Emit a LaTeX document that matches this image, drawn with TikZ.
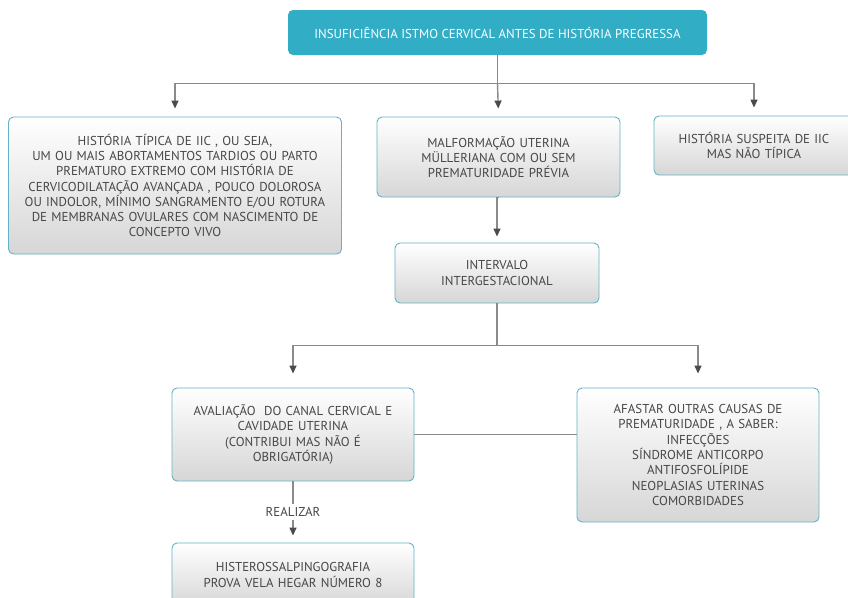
\documentclass[tikz,border=0pt]{standalone}
\usepackage{fontspec}
\setmainfont{PT Sans}
\usetikzlibrary{arrows.meta}
\definecolor{headfill}{HTML}{32ADC6}
\definecolor{rim}{HTML}{62B3C7}
\definecolor{ink}{HTML}{474747}
\definecolor{wirecol}{HTML}{8A8A8A}
\tikzset{
  card/.style={draw=rim, line width=0.9pt, rounded corners=5pt, top color=white,
    bottom color=black!16, text=ink, align=center, inner sep=0pt},
  headcard/.style={fill=headfill, rounded corners=5pt, text=white, align=center, inner sep=0pt},
  wire/.style={draw=wirecol, line width=1.4pt},
  flow/.style={wire, -{Triangle[length=8pt,width=7pt,color=black!70]}}
}
\begin{document}
\begin{tikzpicture}[x=1pt,y=-1pt,font=\fontsize{12.9}{15.3}\selectfont]
\useasboundingbox (0,0) rectangle (848,597);

\node[headcard, minimum width=419pt, minimum height=45pt] (hist) at (497.5,32.5)
  {INSUFICIÊNCIA ISTMO CERVICAL ANTES DE HISTÓRIA PREGRESSA};

\node[card, minimum width=333pt, minimum height=137pt, text width=325pt] (tipica) at (175,185.5)
  {HISTÓRIA TÍPICA DE IIC , OU SEJA,\\ UM OU MAIS ABORTAMENTOS TARDIOS OU PARTO\\
   PREMATURO EXTREMO COM HISTÓRIA DE\\ CERVICODILATAÇÃO AVANÇADA , POUCO DOLOROSA\\
   OU INDOLOR, MÍNIMO SANGRAMENTO E/OU ROTURA\\ DE MEMBRANAS OVULARES COM NASCIMENTO DE\\
   CONCEPTO VIVO};
\node[card, minimum width=243pt, minimum height=80pt, text width=230pt] (malform) at (498.5,157)
  {MALFORMAÇÃO UTERINA\\ MÜLLERIANA COM OU SEM\\ PREMATURIDADE PRÉVIA};
\node[card, minimum width=200pt, minimum height=59pt, text width=190pt] (suspeita) at (754,145.5)
  {HISTÓRIA SUSPEITA DE IIC\\ MAS NÃO TÍPICA};

\node[card, minimum width=204pt, minimum height=60pt, text width=190pt] (intervalo) at (497,273)
  {INTERVALO\\ INTERGESTACIONAL};

\node[card, minimum width=242pt, minimum height=93pt, text width=236pt] (avaliacao) at (293,434.5)
  {AVALIAÇÃO\ \ DO CANAL CERVICAL E\\ CAVIDADE UTERINA\\ (CONTRIBUI MAS NÃO É\\ OBRIGATÓRIA)};
\node[card, minimum width=242pt, minimum height=134pt, text width=236pt] (afastar) at (698,455)
  {AFASTAR OUTRAS CAUSAS DE\\ PREMATURIDADE , A SABER:\\ INFECÇÕES\\ SÍNDROME ANTICORPO\\
   ANTIFOSFOLÍPIDE\\ NEOPLASIAS UTERINAS\\ COMORBIDADES};

\node[card, minimum width=242pt, minimum height=64pt, text width=236pt] (histero) at (293,575)
  {HISTEROSSALPINGOGRAFIA\\ PROVA VELA HEGAR NÚMERO 8};

\draw[wire] (hist.south) -- ++(0,28) coordinate (split1);
\draw[flow, shorten >=8pt] (split1) -| (tipica.north);
\draw[flow, shorten >=8pt] (split1) -- (malform.north);
\draw[flow, shorten >=8pt] (split1) -| (suspeita.north);

\draw[flow, shorten >=6pt] (malform.south) -- (intervalo.south |- malform.south) -- (intervalo.north);

\draw[wire] (intervalo.south) -- ++(0,42) coordinate (split2);
\draw[flow, shorten >=14pt] (split2) -| (avaliacao.north);
\draw[flow, shorten >=14pt] (split2) -| (afastar.north);

\draw[wire] (avaliacao.east) -- (avaliacao.east -| afastar.west);

\draw[flow, shorten >=7pt] (avaliacao.south) -- node[fill=white, text=ink, inner sep=3pt] {REALIZAR} (histero.north);
\end{tikzpicture}
\end{document}
